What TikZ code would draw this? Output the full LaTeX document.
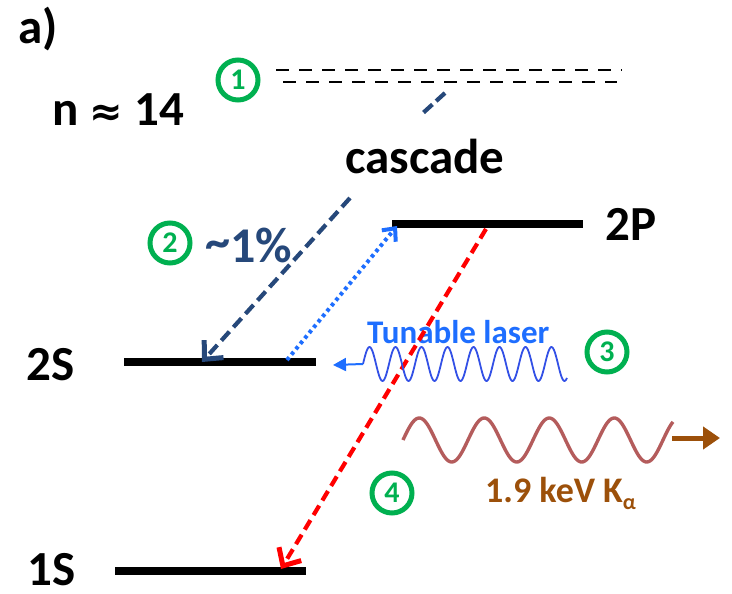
\documentclass[tikz,border=0pt]{standalone}
\usepackage{fontspec}
\setmainfont{Carlito}
\newfontfamily\symfnt{DejaVu Sans}
\usetikzlibrary{arrows.meta}
\definecolor{navy}{RGB}{38,72,122}
\definecolor{grn}{RGB}{0,176,80}
\definecolor{lblue}{RGB}{30,110,255}
\definecolor{wblue}{RGB}{50,80,230}
\definecolor{rosy}{RGB}{180,92,92}
\definecolor{brn}{RGB}{156,80,10}
\tikzset{
  level/.style={line width=7.5pt},
  lbl/.style={anchor=base west, inner sep=0pt, text depth=0pt, font=\fontsize{49}{50}\selectfont\bfseries},
  num/.style={circle, draw=grn, line width=5pt, minimum size=40pt, inner sep=0pt, text=grn, font=\fontsize{30}{30}\selectfont\bfseries},
}
\begin{document}
\begin{tikzpicture}[x=1pt,y=-1pt]
\useasboundingbox (0,0) rectangle (732,594);

% texts
\node[lbl] (ta) at (18,44) {a)};
\node[lbl] (tn) at (52,125) {n {\symfnt\bfseries\fontsize{40}{40}\selectfont ≈} 14};
\node[lbl] (tc) at (345,173) {cascade};
\node[lbl] (t2p) at (605,240) {2P};
\node[lbl] (t2s) at (26,380) {2S};
\node[lbl] (t1s) at (27,585) {1S};
\node[lbl, text=navy, font=\fontsize{50}{50}\selectfont\bfseries] (tpc) at (205,262) {\raisebox{4pt}{\char`\~}1\%};
\node[lbl, text=lblue, font=\fontsize{33}{33}\selectfont\bfseries] (tl) at (367,343) {Tunable laser};
\node[lbl, text=brn, font=\fontsize{36}{36}\selectfont\bfseries] (tk) at (485,502) {1.9 keV K\raisebox{-7pt}{\fontsize{22}{22}\selectfont α}};

% numbered circles
\node[num] (c1) at (238,80) {1};
\node[num] (c2) at (170,243) {2};
\node[num] (c3) at (607,352) {3};
\node[num] (c4) at (392,493) {4};

% top dashed levels
\coordinate (h1a) at (276,70); \coordinate (h1b) at (622,70);
\coordinate (h2a) at (283,82); \coordinate (h2b) at (617,82);
\draw[line width=2.8pt, dash pattern=on 13pt off 10pt] (h1a) -- (h1b);
\draw[line width=2.8pt, dash pattern=on 13pt off 10pt] (h2a) -- (h2b);

% levels
\coordinate (p2a) at (392,224); \coordinate (p2b) at (583,224);
\coordinate (s2a) at (124,362); \coordinate (s2b) at (316,362);
\coordinate (s1a) at (115,571); \coordinate (s1b) at (306,571);
\draw[level] (p2a) -- (p2b);
\draw[level] (s2a) -- (s2b);
\draw[level] (s1a) -- (s1b);

% cascade short dashes
\coordinate (ca) at (445,93); \coordinate (cb) at (423,113);
\draw[navy, line width=4.2pt, dash pattern=on 12pt off 5pt] (ca) -- (cb);

% ~1% cascade arrow
\coordinate (na) at (350,198); \coordinate (nb) at (202,362);
\draw[navy, line width=4.2pt, dash pattern=on 12pt off 6pt,
  -{Straight Barb[length=14pt,width=26pt,line width=5pt]}] (na) -- (nb);

% laser excitation (dotted)
\coordinate (ba) at (287,360); \coordinate (bb) at (397,226);
\draw[lblue, line width=4pt, dash pattern=on 3.5pt off 3.5pt,
  -{Straight Barb[length=10pt,width=18pt,line width=4pt]}] (ba) -- (bb);

% Kalpha decay (red dashed)
\coordinate (ra) at (486,229); \coordinate (rb) at (281,569);
\draw[red, line width=4.2pt, dash pattern=on 11pt off 6pt,
  -{Straight Barb[length=14pt,width=26pt,line width=5pt]}] (ra) -- (rb);

% laser wave
\coordinate (lw) at (363,364); \coordinate (lt) at (333,365);
\draw[wblue, line width=1.8pt] plot[domain=0:204, samples=220] ({363+\x},{364-17*sin(\x/26*360)});
\draw[lblue, line width=2pt, -{Triangle[length=13pt,width=13pt]}] (lw) -- (lt);

% Kalpha photon wave
\coordinate (kw) at (672,438); \coordinate (kt) at (720,438);
\draw[rosy, line width=3.4pt] plot[domain=0:270, samples=220] ({403+\x},{440-22*sin(\x/65*360)});
\draw[brn, line width=5pt, -{Triangle[length=17pt,width=22pt]}] (kw) -- (kt);
\end{tikzpicture}
\end{document}
